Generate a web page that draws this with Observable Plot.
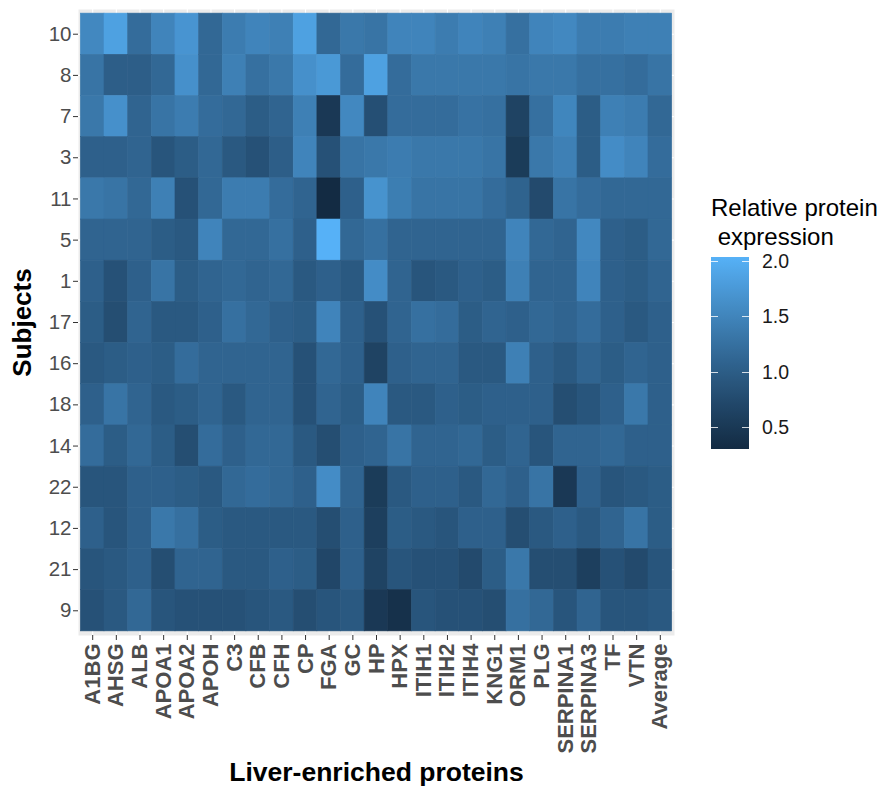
<!DOCTYPE html>
<html>
<head>
<meta charset="utf-8">
<script src="https://cdn.jsdelivr.net/npm/d3@7"></script>
<script src="https://cdn.jsdelivr.net/npm/@observablehq/plot@0.6"></script>
<style>
  html, body { margin: 0; padding: 0; background: #fff; }
  #root { position: relative; width: 885px; height: 787px; overflow: hidden; background: #fff;
          font-family: "Liberation Sans", Arial, sans-serif; }
  #root svg { position: absolute; left: 0; top: 0; }
  .abs { position: absolute; white-space: pre; }
</style>
</head>
<body>
<div id="root"></div>
<script>
// ---- data ----
const proteins = ["A1BG","AHSG","ALB","APOA1","APOA2","APOH","C3","CFB","CFH","CP","FGA","GC","HP","HPX",
  "ITIH1","ITIH2","ITIH4","KNG1","ORM1","PLG","SERPINA1","SERPINA3","TF","VTN","Average"];
const subjects = ["10","8","7","3","11","5","1","17","16","18","14","22","12","21","9"];

const s10 = [1.55,1.85,1.20,1.50,1.70,1.15,1.40,1.50,1.45,1.85,1.15,1.35,1.30,1.50,1.50,1.40,1.50,1.45,1.25,1.50,1.55,1.40,1.40,1.45,1.45];
const s8  = [1.30,1.02,1.02,1.15,1.65,1.15,1.45,1.25,1.35,1.65,1.75,1.20,1.85,1.20,1.35,1.35,1.35,1.35,1.30,1.35,1.35,1.25,1.25,1.20,1.30];
const s7  = [1.35,1.65,1.10,1.30,1.40,1.20,1.15,1.00,1.10,1.45,0.50,1.55,0.82,1.20,1.20,1.20,1.28,1.25,0.65,1.25,1.52,1.00,1.45,1.40,1.15];
const s3  = [1.05,1.05,1.10,0.90,1.00,1.15,0.95,0.85,1.02,1.50,0.85,1.30,1.35,1.40,1.35,1.35,1.35,1.30,0.55,1.35,1.45,1.00,1.60,1.50,1.20];
const s11 = [1.35,1.30,1.15,1.45,0.85,1.15,1.40,1.40,1.20,1.10,0.31,1.05,1.68,1.42,1.30,1.30,1.30,1.20,1.08,0.75,1.30,1.20,1.15,1.15,1.15];
const s5  = [1.10,1.10,1.10,1.00,0.95,1.50,1.15,1.15,1.25,1.05,2.04,1.15,1.25,1.10,1.10,1.10,1.10,1.10,1.50,1.15,1.10,1.55,1.05,1.00,1.15];
const s1  = [1.05,0.85,1.05,1.30,1.00,1.10,1.15,1.10,1.15,0.95,1.05,0.95,1.60,1.10,0.90,0.95,1.05,1.00,1.45,1.10,1.10,1.50,1.05,1.00,1.10];
const s17 = [1.00,0.80,1.10,0.95,0.95,1.05,1.25,1.15,1.05,1.00,1.50,1.05,0.85,1.10,1.25,1.20,1.00,1.10,1.05,1.15,1.10,1.20,1.05,0.95,1.05];
const s16 = [0.95,1.00,1.05,1.00,1.20,1.10,1.10,1.10,1.10,0.85,1.15,1.05,0.65,1.05,1.10,1.10,0.95,0.95,1.45,1.05,0.95,1.10,1.00,1.10,1.05];
const s18 = [1.05,1.30,1.10,0.95,1.00,1.10,0.95,1.10,1.10,0.85,1.10,1.00,1.50,0.95,0.95,1.05,1.00,1.05,1.05,1.05,0.80,0.90,1.05,1.35,1.05];
const s14 = [1.20,1.00,1.15,1.00,0.80,1.20,1.05,1.15,1.15,0.95,0.80,1.05,1.10,1.30,1.10,1.10,1.15,1.00,1.10,0.90,1.10,1.10,1.15,1.05,1.05];
const s22 = [0.90,0.90,1.05,1.05,1.00,0.95,1.15,1.20,1.15,1.05,1.60,1.10,0.55,0.95,1.05,1.05,0.95,1.15,1.05,1.30,0.50,1.05,0.90,0.95,1.00];
const s12 = [1.05,0.90,1.05,1.35,1.25,1.00,0.95,0.95,0.95,0.95,0.80,1.05,0.60,1.00,0.95,0.90,1.05,1.05,0.80,0.95,1.05,0.95,1.10,1.30,1.00];
const s21 = [0.90,0.95,1.05,0.80,1.10,1.10,0.95,0.95,1.05,1.00,0.70,1.05,0.65,0.90,0.85,0.85,0.75,1.00,1.35,0.80,0.80,0.60,0.85,0.75,0.90];
const s9  = [0.85,0.95,1.15,0.90,0.85,0.85,0.85,0.90,0.95,0.80,0.90,0.95,0.50,0.40,0.90,0.85,0.85,0.80,1.25,1.15,0.90,1.10,0.90,0.90,0.95];

const rows = [s10,s8,s7,s3,s11,s5,s1,s17,s16,s18,s14,s22,s12,s21,s9];
const legendTicks = [0.5, 1.0, 1.5, 2.0];
const LOW = "#132B43", HIGH = "#56B1F7";

// ---- table ----
const data = [];
subjects.forEach((s, i) => rows[i].forEach((v, j) => data.push({subject: s, protein: proteins[j], value: v})));
const extent = d3.extent(data, d => d.value);

const FONT = "'Liberation Sans', Arial, sans-serif";

const plot = Plot.plot({
  width: 885, height: 787,
  marginLeft: 78, marginRight: 211, marginTop: 9, marginBottom: 152,
  style: {fontFamily: FONT, background: "transparent", overflow: "visible"},
  x: {type: "band", domain: proteins, paddingInner: 0, paddingOuter: 0.1, round: false, axis: null},
  y: {type: "band", domain: subjects, paddingInner: 0, paddingOuter: 0.1, round: false, axis: null},
  color: {type: "linear", domain: extent, range: [LOW, HIGH], interpolate: "lab"},
  marks: [
    Plot.frame({fill: "#EBEBEB", stroke: null}),
    Plot.gridX({stroke: "white", strokeOpacity: 1, strokeWidth: 1.1}),
    Plot.gridY({stroke: "white", strokeOpacity: 1, strokeWidth: 1.1}),
    Plot.cell(data, {x: "protein", y: "subject", fill: "value", stroke: "value", strokeWidth: 0.6}),
    Plot.axisY({tickSize: 5, tickPadding: 2, fontSize: 20.5, fill: "#4D4D4D", stroke: "#333333", label: null}),
    Plot.axisX({tickSize: 5, tickPadding: 3, tickRotate: -90, fontSize: 22, fontWeight: "bold",
                fill: "#4D4D4D", stroke: "#333333", label: null}),
    Plot.text(["Liver-enriched proteins"], {text: d => d, frameAnchor: "bottom", dy: 145,
                fontSize: 26.5, fontWeight: "bold", fill: "black"}),
    Plot.text(["Subjects"], {text: d => d, frameAnchor: "left", textAnchor: "middle", dx: -56, rotate: -90,
                fontSize: 26, fontWeight: "bold", fill: "black"})
  ]
});

const root = document.getElementById("root");
root.appendChild(plot);

// ---- legend (vertical colour bar) ----
const barLeft = 711, barTop = 257, barW = 38, barH = 192;
const interp = d3.interpolateLab(LOW, HIGH);
const stops = d3.range(0, 1.0001, 0.05).map(t => `${interp(t)} ${(t * 100).toFixed(1)}%`).join(", ");

const title = document.createElement("div");
title.className = "abs";
title.style.cssText = `left:${barLeft}px; top:193px; font-size:24px; line-height:29px; color:#000;`;
title.textContent = "Relative protein\n expression";
root.appendChild(title);

const bar = document.createElement("div");
bar.className = "abs";
bar.style.cssText = `left:${barLeft}px; top:${barTop}px; width:${barW}px; height:${barH}px;
  background: linear-gradient(to top, ${stops});`;
root.appendChild(bar);

const ly = v => barTop + (extent[1] - v) / (extent[1] - extent[0]) * barH;
legendTicks.forEach(v => {
  const y = ly(v);
  for (const side of [0, barW - 7]) {
    const t = document.createElement("div");
    t.className = "abs";
    t.style.cssText = `left:${barLeft + side}px; top:${y - 0.5}px; width:7px; height:1px; background:rgba(255,255,255,0.8);`;
    root.appendChild(t);
  }
  const lab = document.createElement("div");
  lab.className = "abs";
  lab.style.cssText = `left:${barLeft + barW + 13}px; top:${y - 11.5}px; font-size:19.5px; line-height:23px; color:#1a1a1a;`;
  lab.textContent = v.toFixed(1);
  root.appendChild(lab);
});
</script>
</body>
</html>
